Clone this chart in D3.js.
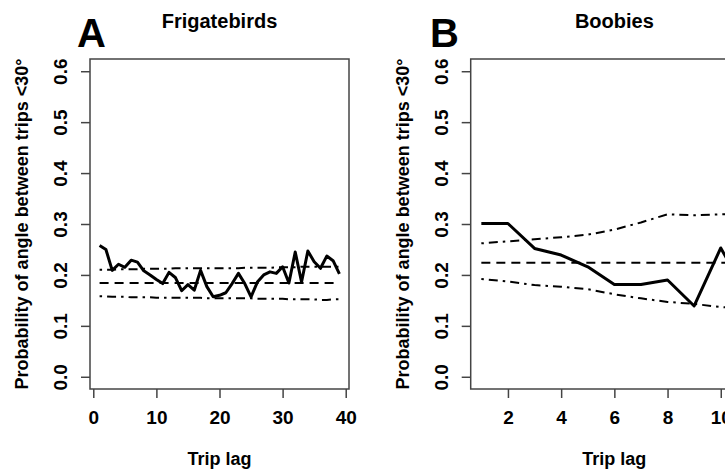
<!DOCTYPE html>
<html>
<head>
<meta charset="utf-8">
<script src="https://cdn.jsdelivr.net/npm/d3@7"></script>
<style>
  body { margin: 0; background: #fff; }
  svg text { font-family: "Liberation Sans", Arial, sans-serif; font-weight: bold; fill: #000; }
</style>
</head>
<body>
<script>
// trip lags and probabilities
var lagA = [1,2,3,4,5,6,7,8,9,10,11,12,13,14,15,16,17,18,19,20,21,22,23,24,25,26,27,28,29,30,31,32,33,34,35,36,37,38,39];
var probA = [0.258,0.250,0.209,0.221,0.215,0.229,0.225,0.208,0.200,0.191,0.183,0.205,0.195,0.169,0.181,0.170,0.209,0.177,0.157,0.160,0.165,0.183,0.203,0.183,0.157,0.186,0.200,0.206,0.203,0.216,0.184,0.245,0.186,0.247,0.226,0.213,0.237,0.228,0.202];
var meanA = [0.184,0.184,0.184,0.184,0.184,0.184,0.184,0.184,0.184,0.184,0.184,0.184,0.184,0.184,0.184,0.184,0.184,0.184,0.184,0.184,0.184,0.184,0.184,0.184,0.184,0.184,0.184,0.184,0.184,0.184,0.184,0.184,0.184,0.184,0.184,0.184,0.184,0.184,0.184];
var upperA = [0.210,0.210,0.210,0.211,0.211,0.211,0.211,0.212,0.212,0.212,0.212,0.212,0.213,0.213,0.213,0.213,0.213,0.213,0.213,0.213,0.213,0.213,0.213,0.214,0.214,0.214,0.214,0.214,0.215,0.215,0.215,0.215,0.216,0.216,0.216,0.216,0.216,0.216,0.216];
var lowerA = [0.158,0.158,0.157,0.157,0.157,0.156,0.156,0.156,0.156,0.155,0.155,0.155,0.155,0.155,0.155,0.155,0.155,0.154,0.154,0.154,0.154,0.154,0.154,0.154,0.154,0.153,0.153,0.153,0.153,0.153,0.152,0.152,0.152,0.152,0.152,0.151,0.151,0.152,0.152];

var lagB = [1,2,3,4,5,6,7,8,9,10,11];
var probB = [0.301,0.301,0.252,0.239,0.216,0.181,0.181,0.190,0.139,0.253,0.160];
var meanB = [0.224,0.224,0.224,0.224,0.224,0.224,0.224,0.224,0.224,0.224,0.224];
var upperB = [0.262,0.266,0.270,0.274,0.279,0.289,0.303,0.319,0.317,0.319,0.320];
var lowerB = [0.192,0.187,0.180,0.177,0.172,0.162,0.154,0.147,0.143,0.137,0.133];

var xTicksA = [0,10,20,30,40];
var xTicksB = [2,4,6,8,10];
var yTicks = [0,0.1,0.2,0.3,0.4,0.5,0.6];

var width = 725, height = 469;
var svg = d3.select("body").append("svg").attr("width", width).attr("height", height);
svg.append("rect").attr("width", width).attr("height", height).attr("fill", "#fff");

var plotTop = 59, plotBottom = 389;
var yscale = d3.scaleLinear().domain([-0.024, 0.624]).range([plotBottom, plotTop]);

function panel(left, right, xdomain, xticks, lags, prob, mean, upper, lower, letter, letterX, title)
{
  var xscale = d3.scaleLinear().domain(xdomain).range([left, right]);
  var g = svg.append("g");

  // y axis with rotated labels, like base R
  var yaxis = g.append("g").attr("transform", "translate(" + left + ",0)")
      .call(d3.axisLeft(yscale).tickValues(yTicks).tickSize(9).tickFormat(d3.format(".1f")));
  yaxis.select(".domain").remove();
  yaxis.selectAll("line").attr("stroke", "#444").attr("stroke-width", 1.5);
  yaxis.selectAll("text")
      .attr("x", null).attr("dy", null)
      .attr("transform", "translate(-23,0) rotate(-90)")
      .attr("text-anchor", "middle")
      .style("font-size", "19px");

  var xaxis = g.append("g").attr("transform", "translate(0," + plotBottom + ")")
      .call(d3.axisBottom(xscale).tickValues(xticks).tickSize(9).tickPadding(13).tickFormat(d3.format("d")));
  xaxis.select(".domain").remove();
  xaxis.selectAll("line").attr("stroke", "#444").attr("stroke-width", 1.5);
  xaxis.selectAll("text").style("font-size", "19px");

  // plot frame
  g.append("rect").attr("x", left).attr("y", plotTop)
      .attr("width", right - left).attr("height", plotBottom - plotTop)
      .attr("fill", "none").attr("stroke", "#444").attr("stroke-width", 1.5);

  function series(vals, dash, w)
  {
    var line = d3.line()
        .x(function(d, i) { return xscale(lags[i]); })
        .y(function(d) { return yscale(d); });
    g.append("path").datum(vals)
        .attr("d", line)
        .attr("fill", "none")
        .attr("stroke", "#000")
        .attr("stroke-width", w)
        .attr("stroke-dasharray", dash)
        .attr("stroke-linejoin", "round");
  }
  series(upper, "2.5,5,9,5", 2);
  series(lower, "2.5,5,9,5", 2);
  series(mean, "9,6", 2);
  series(prob, null, 3);

  g.append("text").attr("x", (left + right) / 2).attr("y", 28)
      .attr("text-anchor", "middle").style("font-size", "20px").text(title);
  g.append("text").attr("x", letterX).attr("y", 47)
      .style("font-size", "40px").text(letter);
  g.append("text")
      .attr("transform", "translate(" + (left - 62) + "," + ((plotTop + plotBottom) / 2) + ") rotate(-90)")
      .attr("text-anchor", "middle").style("font-size", "18px")
      .text("Probability of angle between trips <30°");
  g.append("text").attr("x", (left + right) / 2).attr("y", 465)
      .attr("text-anchor", "middle").style("font-size", "18px").text("Trip lag");
}

panel(90, 349, [-0.52, 40.52], xTicksA, lagA, probA, meanA, upperA, lowerA, "A", 77, "Frigatebirds");
panel(470.7, 758, [0.6, 11.4], xTicksB, lagB, probB, meanB, upperB, lowerB, "B", 430, "Boobies");
</script>
</body>
</html>
